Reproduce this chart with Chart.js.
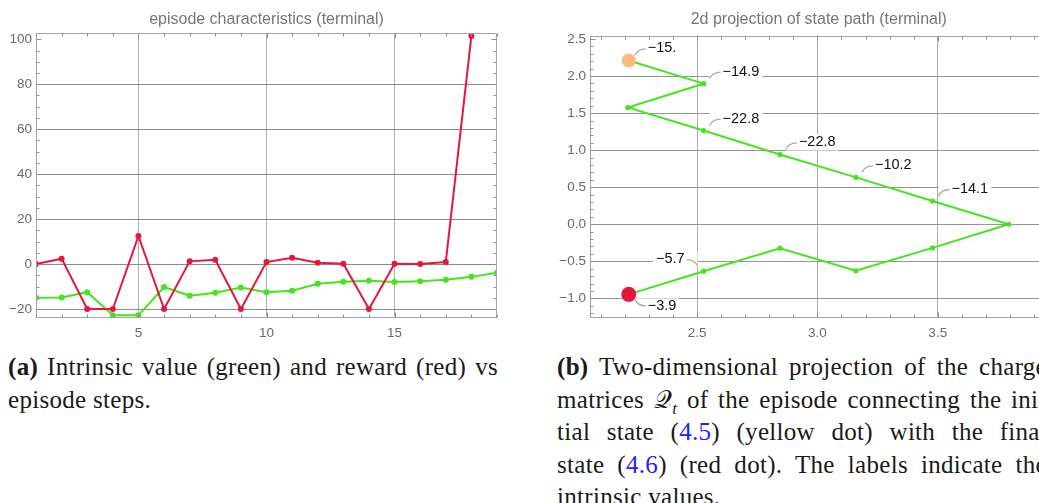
<!DOCTYPE html>
<html>
<head>
<meta charset="utf-8">
<script src="https://cdn.jsdelivr.net/npm/chart.js@4.4.1/dist/chart.umd.min.js"></script>
<style>
  html, body { margin: 0; padding: 0; background: #fff; overflow: hidden; }
  body { width: 1039px; height: 503px; position: relative; }
  .plot { position: absolute; top: 0; height: 345px; }
  #wrap-a { left: 0; width: 510px; }
  #wrap-b { left: 530px; width: 530px; }
  .cap { position: absolute; width: 490px; font-family: "Liberation Serif", "Times New Roman", serif;
         font-size: 25px; letter-spacing: 0.3px; line-height: 32.5px; color: #1a1a1a; }
  .cap .j { text-align: justify; text-align-last: justify; }
  .cap sub { font-size: 17px; line-height: 0; }
  .ref { color: #2222ff; }
</style>
</head>
<body>
<div class="plot" id="wrap-a"><canvas id="chart-a"></canvas></div>
<div class="plot" id="wrap-b"><canvas id="chart-b"></canvas></div>

<div class="cap" style="left:8px; top:351px;">
  <div class="j"><b>(a)</b> Intrinsic value (green) and reward (red) vs</div>
  <div>episode steps.</div>
</div>
<div class="cap" style="left:557px; top:351px;">
  <div class="j"><b>(b)</b> Two-dimensional projection of the charge</div>
  <div class="j">matrices 𝒬<sub><i>t</i></sub> of the episode connecting the ini-</div>
  <div class="j">tial state (<span class="ref">4.5</span>) (yellow dot) with the final</div>
  <div class="j">state (<span class="ref">4.6</span>) (red dot). The labels indicate the</div>
  <div>intrinsic values.</div>
</div>

<script>
// episode characteristics (left)
const steps     = [1, 2, 3, 4, 5, 6, 7, 8, 9, 10, 11, 12, 13, 14, 15, 16, 17, 18, 19];
const reward    = [0, 2.4, -20, -20, 12.5, -20, 1.2, 1.9, -20, 0.9, 2.8, 0.6, 0.1, -20, 0.1, 0, 0.9, 101.5];
const intrinsic = [-15, -14.9, -12.5, -22.8, -22.8, -10.2, -14.1, -12.8, -10.4, -12.5, -11.9,
                   -8.8, -7.9, -7.4, -8.0, -7.6, -7.0, -5.7, -3.9];
const epXTicks  = [5, 10, 15];
const epYTicks  = [-20, 0, 20, 40, 60, 80, 100];

// 2d projection of the state path (right)
const pathX      = [2.216, 2.527, 2.212, 2.527, 2.844, 3.160, 3.478, 3.795, 3.478, 3.160, 2.844, 2.527, 2.216];
const pathY      = [2.211, 1.898, 1.575, 1.265, 0.942, 0.633, 0.314, 0.000, -0.319, -0.628, -0.323, -0.633, -0.946];
const pathLabels = ['−15.', '−14.9', null, '−22.8', '−22.8', '−10.2', '−14.1', null, null, null, null, '−5.7', '−3.9'];
const prXTicks   = [2.5, 3.0, 3.5];
const prYTicks   = [-1.0, -0.5, 0.0, 0.5, 1.0, 1.5, 2.0, 2.5];

const FONT   = '"Liberation Sans", Arial, sans-serif';
const GREEN  = '#45e41f';
const RED    = '#e5173b';
const ORANGE = '#fdb97f';
const TXT    = '#6a6a6a';

Chart.defaults.font.family = FONT;

const minus = s => String(s).replace('-', '\u2212');

// frame with inward ticks on all four sides, Mathematica style
const framePlugin = {
    id: 'frame',
    afterDatasetsDraw(chart, args, o) {
        if (!o.x) return;
        const { ctx, chartArea: a, scales: { x, y } } = chart;
        const L = Math.round(a.left) + 0.5, R = Math.round(a.right) - 0.5;
        const T = Math.round(a.top) + 0.5, B = Math.round(a.bottom) - 0.5;
        ctx.save();
        ctx.lineWidth = 1;
        ctx.strokeStyle = '#a4a4a4';
        ctx.strokeRect(L, T, R - L, B - T);
        ctx.strokeStyle = '#8e8e8e';
        ctx.beginPath();
        const run = (scale, minor, major, cb) => {
            const k0 = Math.ceil(scale.min / minor - 1e-9), k1 = Math.floor(scale.max / minor + 1e-9);
            const ratio = Math.round(major / minor);
            for (let k = k0; k <= k1; k++) {
                const p = Math.round(scale.getPixelForValue(k * minor)) + 0.5;
                cb(p, k % ratio === 0 ? 5 : 3);
            }
        };
        run(x, o.x[0], o.x[1], (p, len) => {
            ctx.moveTo(p, B); ctx.lineTo(p, B - len);
            ctx.moveTo(p, T); ctx.lineTo(p, T + len);
        });
        run(y, o.y[0], o.y[1], (p, len) => {
            ctx.moveTo(L, p); ctx.lineTo(L + len, p);
            ctx.moveTo(R, p); ctx.lineTo(R - len, p);
        });
        ctx.stroke();
        ctx.restore();
    },
};

// callout labels with a short curved leader
const calloutPlugin = {
    id: 'callouts',
    afterDatasetsDraw(chart, args, o) {
        if (!o.labels) return;
        const { ctx } = chart;
        const pts = chart.getDatasetMeta(o.dataset).data;
        ctx.save();
        ctx.font = '14.5px ' + FONT;
        ctx.textBaseline = 'middle';
        o.labels.forEach((txt, i) => {
            if (!txt) return;
            const p = pts[i];
            const side = o.sides[i] || 'ne';
            const sx = side === 'nw' ? -1 : 1;
            const sy = side === 'se' ? 1 : -1;
            const w = ctx.measureText(txt).width;
            const tx = p.x + sx * 19, ty = p.y + sy * 12;
            ctx.fillStyle = '#fff';
            const x0 = p.x + sx * 6, x1 = tx + sx * (w + 3);
            ctx.fillRect(Math.min(x0, x1), ty - 8, Math.abs(x1 - x0), 16);
            ctx.strokeStyle = '#ababab';
            ctx.lineWidth = 1.3;
            ctx.beginPath();
            ctx.moveTo(p.x + sx * 6, p.y + sy * 5);
            ctx.quadraticCurveTo(p.x + sx * 9, p.y + sy * 11.5, p.x + sx * 17, p.y + sy * 11.5);
            ctx.stroke();
            ctx.fillStyle = '#111';
            ctx.textAlign = sx > 0 ? 'left' : 'right';
            ctx.fillText(txt, tx, ty);
        });
        ctx.restore();
    },
};

function axis(min, max, ticks, fmt, size, horiz, gridColor) {
    const top = ticks[ticks.length - 1];
    return {
        type: 'linear', min, max,
        afterBuildTicks: s => { s.ticks = ticks.map(v => ({ value: v })); },
        afterFit: s => { if (horiz) s.height = size; else s.width = size; },
        grid: {
            drawTicks: false,
            lineWidth: 1,
            color: c => (!horiz && c.tick && c.tick.value === top) ? 'rgba(0,0,0,0)' : gridColor,
        },
        border: { display: false },
        ticks: {
            color: TXT, font: { size: 13.5 }, padding: horiz ? 7 : 4,
            autoSkip: false, maxRotation: 0, callback: fmt,
        },
    };
}

function title(text, bottom) {
    return {
        display: true, text, color: '#767676', fullSize: false,
        font: { size: 16, weight: 'normal' },
        padding: { top: 9.5, bottom },
    };
}

const xy = (xs, ys) => ys.map((v, i) => ({ x: xs[i], y: v }));

new Chart(document.getElementById('chart-a'), {
    type: 'scatter',
    data: {
        datasets: [
            { data: xy(steps, reward), borderColor: RED, backgroundColor: RED,
              showLine: true, borderWidth: 2, pointRadius: 3, pointBorderWidth: 0 },
            { data: xy(steps, intrinsic), borderColor: GREEN, backgroundColor: GREEN,
              showLine: true, borderWidth: 2, pointRadius: 3, pointBorderWidth: 0 },
        ],
    },
    options: {
        responsive: true,
        maintainAspectRatio: false,
        animation: false,
        layout: { padding: { left: 0, right: 13, top: 0, bottom: 0 } },
        plugins: {
            legend: { display: false },
            tooltip: { enabled: false },
            title: title('episode characteristics (terminal)', 4.3),
            frame: { x: [1, 5], y: [5, 20] },
        },
        scales: {
            x: axis(1, 19, epXTicks, v => minus(v), 27, true, '#b0b0b0'),
            y: axis(-24, 102.8, epYTicks, v => minus(v), 36, false, '#8c8c8c'),
        },
    },
    plugins: [framePlugin],
});

new Chart(document.getElementById('chart-b'), {
    type: 'scatter',
    data: {
        datasets: [
            { data: xy(pathX, pathY), borderColor: GREEN, backgroundColor: GREEN, order: 2,
              showLine: true, borderWidth: 2, pointRadius: 2.6, pointBorderWidth: 0 },
            { data: xy(pathX.slice(0, 1), pathY.slice(0, 1)), backgroundColor: ORANGE, order: 1,
              pointRadius: 7, pointBorderWidth: 0 },
            { data: xy(pathX.slice(-1), pathY.slice(-1)), backgroundColor: RED, order: 1,
              pointRadius: 7.5, pointBorderWidth: 0 },
        ],
    },
    options: {
        responsive: true,
        maintainAspectRatio: false,
        animation: false,
        layout: { padding: { left: 0, right: 12.5, top: 0, bottom: 0 } },
        plugins: {
            legend: { display: false },
            tooltip: { enabled: false },
            title: title('2d projection of state path (terminal)', 7),
            frame: { x: [0.1, 0.5], y: [0.1, 0.5] },
            callouts: {
                dataset: 0,
                labels: pathLabels,
                sides: ['ne', 'ne', null, 'ne', 'ne', 'ne', 'ne', null, null, null, null, 'nw', 'se'],
            },
        },
        scales: {
            x: axis(2.055, 3.956, prXTicks, v => minus(v.toFixed(1)), 27, true, '#ababab'),
            y: axis(-1.265, 2.545, prYTicks, v => minus(v.toFixed(1)), 60, false, '#959595'),
        },
    },
    plugins: [framePlugin, calloutPlugin],
});
</script>
</body>
</html>
